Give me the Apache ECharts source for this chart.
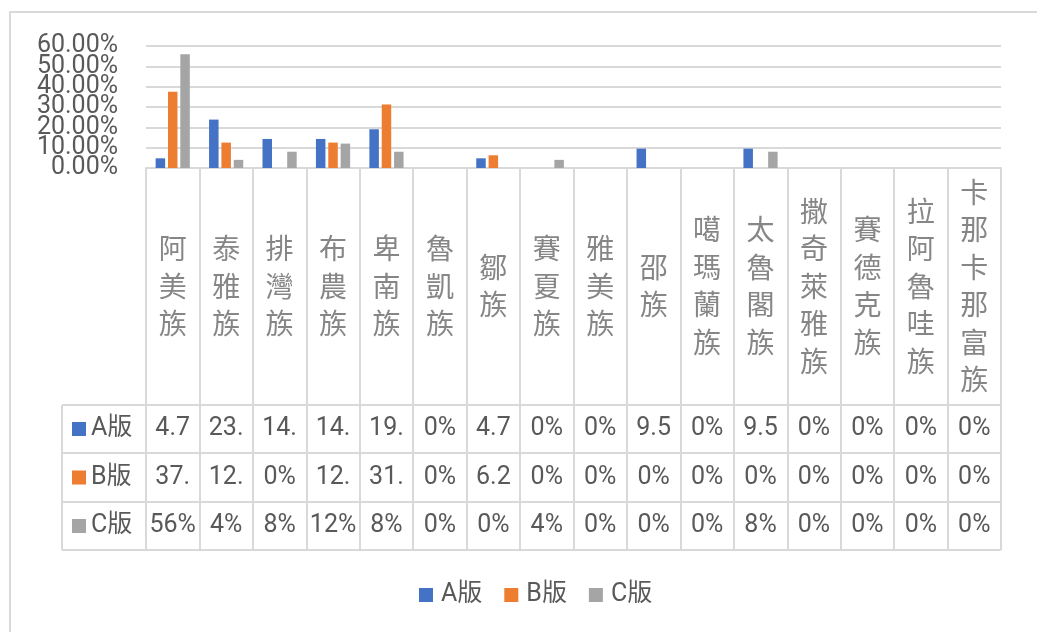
<!DOCTYPE html>
<html>
<head>
<meta charset="utf-8">
<script src="https://cdn.jsdelivr.net/npm/echarts@6/dist/echarts.min.js"></script>
<style>
  html, body { margin: 0; padding: 0; background: #ffffff; }
  #chart { width: 1037px; height: 632px; }
</style>
</head>
<body>
<div id="chart"></div>
<script>
// categories (族群) and series
const categories = [
  "阿美族", "泰雅族", "排灣族", "布農族", "卑南族", "魯凱族", "鄒族", "賽夏族",
  "雅美族", "邵族", "噶瑪蘭族", "太魯閣族", "撒奇萊雅族", "賽德克族", "拉阿魯哇族", "卡那卡那富族"
];
const seriesNames = ["A版", "B版", "C版"];
// percent values
const valuesA = [4.76, 23.81, 14.29, 14.29, 19.05, 0, 4.76, 0, 0, 9.52, 0, 9.52, 0, 0, 0, 0];
const valuesB = [37.5, 12.5, 0, 12.5, 31.25, 0, 6.25, 0, 0, 0, 0, 0, 0, 0, 0, 0];
const valuesC = [56, 4, 8, 12, 8, 0, 0, 4, 0, 0, 0, 8, 0, 0, 0, 0];
const yMin = 0;
const yMax = 60;
const yStep = 10;

const colors = ["#4472C4", "#ED7D31", "#A5A5A5"];
const textColor = "#595959";
const lineColor = "#d9d9d9";
const latinFont = "Roboto";
const cjkFont = "'Noto Sans CJK TC'";

// layout (px)
const plotLeft = 146;
const plotRight = 1001;
const plotTop = 46;
const plotBottom = 168;
const tableTop = 405;
const rowBounds = [405, 453, 502, 550];
const headerLeft = 62;

// data table text: Excel cuts the cell text to 3 chars
function cellText(v) {
  const s = Number.isInteger(v) ? v + "%" : v.toFixed(2) + "%";
  return s.slice(0, 3);
}

const allValues = [valuesA, valuesB, valuesC];
const rowCenters = [0, 1, 2].map((i) => (rowBounds[i] + rowBounds[i + 1]) / 2);

const chart = echarts.init(document.getElementById("chart"));

// 表格の行（A/B/C版）
const tableAxes = allValues.map((vals, i) => ({
  type: "category",
  gridIndex: 0,
  position: "bottom",
  offset: rowCenters[i] - plotBottom,
  data: vals.map(cellText),
  axisLine: { show: false },
  axisTick: { show: false },
  axisLabel: {
    interval: 0,
    margin: 0,
    verticalAlign: "middle",
    fontSize: 25,
    fontFamily: latinFont,
    color: textColor,
  },
}));

// 行ヘッダー（凡例）
const rowLegends = seriesNames.map((name, i) => ({
  data: [name],
  left: 72,
  top: rowCenters[i] - 15,
  padding: 0,
  selectedMode: false,
  icon: "rect",
  itemWidth: 14,
  itemHeight: 14,
  textStyle: {
    fontSize: 25,
    lineHeight: 30,
    fontFamily: latinFont + "," + cjkFont,
    color: textColor,
  },
}));

const tableLines = rowBounds.map((y) => ({
  type: "line",
  shape: { x1: headerLeft, y1: y, x2: plotRight, y2: y },
  style: { stroke: lineColor, lineWidth: 2 },
  silent: true,
}));

// y labels overlap each other, so they are split over two axes
// (axis 0: 0/20/30/40/60, axis 1: 10/50) to keep all of them visible
function yAxisDef(showLabel, showSplit) {
  return {
    type: "value",
    position: "left",
    offset: 0,
    min: yMin,
    max: yMax,
    interval: yStep,
    axisLine: { show: false },
    axisTick: { show: false },
    splitLine: { show: showSplit, lineStyle: { color: lineColor, width: 2 } },
    axisLabel: {
      margin: 28,
      fontSize: 25,
      fontFamily: latinFont,
      color: textColor,
      formatter: (v) => (showLabel(v) ? v.toFixed(2) + "%" : ""),
    },
  };
}

const option = {
  animation: false,
  color: colors,
  grid: {
    left: plotLeft,
    top: plotTop,
    width: plotRight - plotLeft,
    height: plotBottom - plotTop,
  },
  legend: [
    {
      data: seriesNames,
      left: 419,
      top: 580,
      padding: 0,
      selectedMode: false,
      icon: "rect",
      itemWidth: 14,
      itemHeight: 14,
      itemGap: 22,
      textStyle: {
        fontSize: 25,
        lineHeight: 30,
        padding: [0, 0, 0, 3],
        fontFamily: latinFont + "," + cjkFont,
        color: textColor,
      },
    },
  ].concat(rowLegends),
  xAxis: [
    {
      type: "category",
      gridIndex: 0,
      data: categories,
      axisLine: { show: true, lineStyle: { color: lineColor, width: 2 } },
      axisTick: {
        show: true,
        interval: 0,
        length: rowBounds[3] - plotBottom,
        lineStyle: { color: lineColor, width: 2 },
      },
      axisLabel: {
        interval: 0,
        margin: 118,
        verticalAlign: "middle",
        fontSize: 28,
        lineHeight: 37.5,
        fontFamily: cjkFont,
        color: "#868686",
        formatter: (v) => v.split("").join("\n"),
      },
    },
  ].concat(tableAxes),
  yAxis: [
    yAxisDef((v) => v !== 10 && v !== 50, true),
    yAxisDef((v) => v === 10 || v === 50, false),
  ],
  series: seriesNames.map((name, i) => ({
    name: name,
    type: "bar",
    xAxisIndex: 0,
    yAxisIndex: 0,
    data: allValues[i],
    barWidth: 9.5,
    barGap: "30%",
    itemStyle: { color: colors[i] },
  })),
  graphic: [
    {
      type: "rect",
      shape: { x: 10, y: 12, width: 1100, height: 700 },
      style: { fill: "none", stroke: lineColor, lineWidth: 2 },
      silent: true,
      z: -10,
    },
    {
      type: "line",
      shape: { x1: headerLeft, y1: tableTop, x2: headerLeft, y2: rowBounds[3] },
      style: { stroke: lineColor, lineWidth: 2 },
      silent: true,
    },
  ].concat(tableLines),
};

chart.setOption(option);
</script>
</body>
</html>
